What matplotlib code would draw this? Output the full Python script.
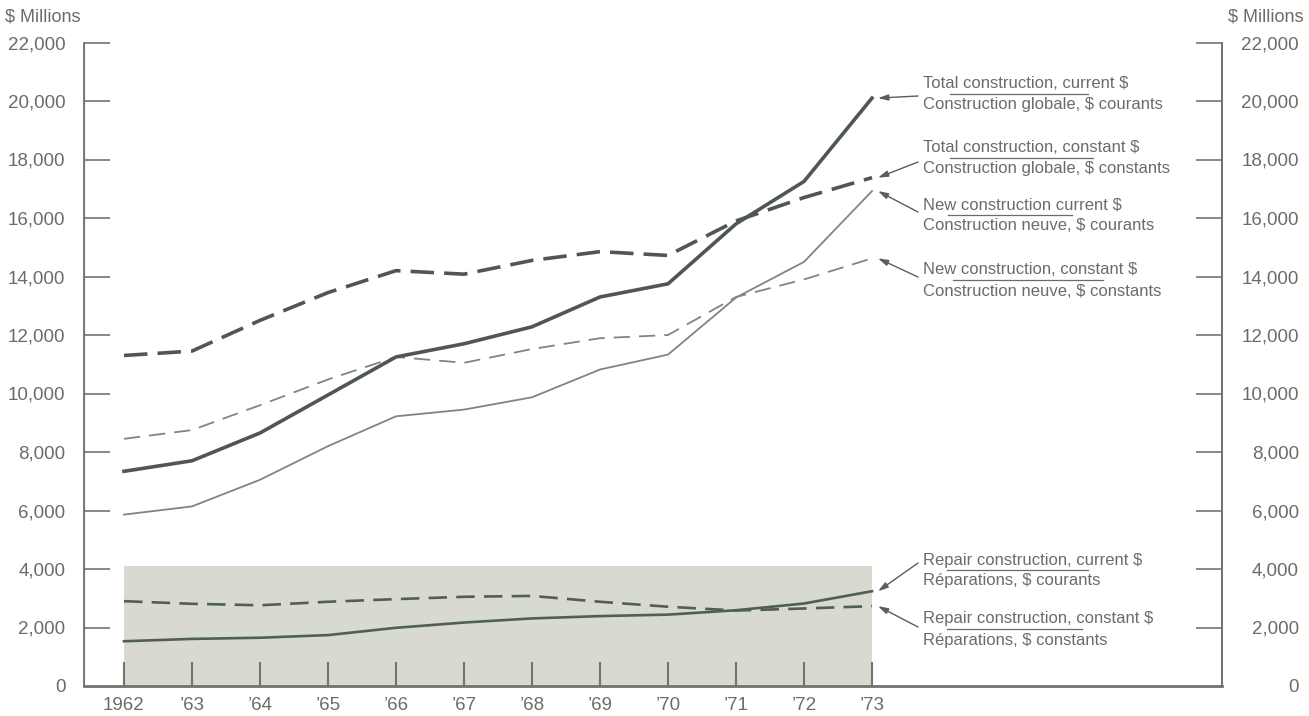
import matplotlib
matplotlib.use("Agg")
import matplotlib.pyplot as plt
from matplotlib.lines import Line2D

plt.rcParams['font.family'] = ['Liberation Sans', 'DejaVu Sans']

years = [1962, 1963, 1964, 1965, 1966, 1967, 1968, 1969, 1970, 1971, 1972, 1973]
year_labels = ['1962', '’63', '’64', '’65', '’66', '’67', '’68', '’69', '’70', '’71', '’72', '’73']

total_current = [7340, 7700, 8650, 9950, 11250, 11700, 12280, 13300, 13750, 15800, 17250, 20100]
total_constant = [11300, 11450, 12500, 13450, 14200, 14080, 14550, 14850, 14720, 15900, 16700, 17380]
new_current = [5860, 6140, 7050, 8200, 9220, 9450, 9870, 10820, 11330, 13280, 14500, 16920]
new_constant = [8450, 8750, 9600, 10480, 11250, 11050, 11520, 11890, 12000, 13300, 13900, 14620]
repair_current = [1530, 1610, 1650, 1740, 1990, 2170, 2310, 2390, 2440, 2590, 2820, 3240]
repair_constant = [2900, 2810, 2760, 2880, 2970, 3050, 3080, 2880, 2710, 2580, 2650, 2730]

shade_top = 4100
yticks = list(range(0, 22001, 2000))
ytick_labels = [f"{v:,}" for v in yticks]

labels = [
    ("Total construction, current $", "Construction globale, $ courants"),
    ("Total construction, constant $", "Construction globale, $ constants"),
    ("New construction current $", "Construction neuve, $ courants"),
    ("New construction, constant $", "Construction neuve, $ constants"),
    ("Repair construction, current $", "Réparations, $ courants"),
    ("Repair construction, constant $", "Réparations, $ constants"),
]
end_values = [total_current[-1], total_constant[-1], new_current[-1],
              new_constant[-1], repair_current[-1], repair_constant[-1]]

W, H = 1309, 716
dark = '#4e5850'
light = '#7d877c'
txt = '#6a6d65'
axc = '#6f766e'

fig = plt.figure(figsize=(W / 100, H / 100), dpi=100)
ax = fig.add_axes([84 / W, 1 - 686 / H, (1222 - 84) / W, (686 - 42.5) / H])

ax.fill_between([years[0], years[-1]], 0, shade_top, color='#d8d9d1', lw=0, zorder=0)

ax.plot(years, new_current, color=light, lw=1.3, zorder=3)
ax.plot(years, new_constant, color=light, lw=1.3, dashes=(9, 5), zorder=3)
ax.plot(years, total_current, color=dark, lw=2.6, zorder=4)
ax.plot(years, total_constant, color=dark, lw=2.6, dashes=(6.5, 2.8), zorder=4)
ax.plot(years, repair_current, color='#4f6052', lw=1.9, zorder=4)
ax.plot(years, repair_constant, color='#4f6052', lw=1.9, dashes=(7, 3.5), zorder=4)

ax.set_xlim(years[0] - 40 / 68, years[-1] + 350 / 68)
ax.set_ylim(0, 22000)
ax.set_xticks(years)
ax.set_xticklabels(year_labels)
ax.set_yticks(yticks)
ax.set_yticklabels(ytick_labels)

ax.spines['top'].set_visible(False)
for s in ['left', 'right']:
    ax.spines[s].set_color(axc)
    ax.spines[s].set_linewidth(1.3)
ax.spines['bottom'].set_color(axc)
ax.spines['bottom'].set_linewidth(2)

ax.tick_params(axis='x', direction='in', length=17, width=1.5, color=axc,
               labelsize=13.5, labelcolor=txt, pad=8)
ax.tick_params(axis='y', direction='in', length=19, width=1.2, color=axc,
               labelsize=13.5, labelcolor=txt, pad=13.5)

# right-hand scale, labels right-aligned
ax2 = ax.twinx()
ax2.set_ylim(0, 22000)
ax2.set_yticks(yticks)
ax2.set_yticklabels(ytick_labels, ha='right')
ax2.tick_params(axis='y', direction='in', length=19, width=1.2, color=axc,
                labelsize=13.5, labelcolor=txt, pad=55.5)
for a in (ax, ax2):
    for t in a.yaxis.get_major_ticks()[:1]:
        t.tick1line.set_visible(False)
        t.tick2line.set_visible(False)
    for s in a.spines.values():
        s.set_color(axc)
ax2.spines['top'].set_visible(False)
ax2.spines['right'].set_linewidth(1.3)

fig.text(5 / W, 1 - 17 / H, "$ Millions", fontsize=13, color=txt, va='center', ha='left')
fig.text(1303 / W, 1 - 17 / H, "$ Millions", fontsize=13, color=txt, va='center', ha='right')

# annotation layout in pixels: (line1 y, underline x0, x1, arrow tail y)
layout = [
    (84, 950, 1088, 96),
    (148, 950, 1093, 162),
    (205, 948, 1072, 212),
    (270, 953, 1103, 277),
    (560, 947, 1088, 563),
    (619, 947, 1082, 627),
]
for (l1, l2), (y1, u0, u1, ty), v in zip(labels, layout, end_values):
    fig.text(923 / W, 1 - y1 / H, l1, fontsize=12, color=txt, va='center', ha='left')
    fig.text(923 / W, 1 - (y1 + 21) / H, l2, fontsize=12, color=txt, va='center', ha='left')
    uy = 1 - (y1 + 10) / H
    fig.add_artist(Line2D([u0 / W, u1 / W], [uy, uy], transform=fig.transFigure,
                          color=txt, lw=0.9))
    ax2.annotate('', xy=(years[-1] + 6 / 68, v), xycoords=ax.transData,
                 xytext=(918, H - ty), textcoords='figure pixels',
                 arrowprops=dict(arrowstyle='-|>,head_length=0.6,head_width=0.18',
                                 color='#566056', lw=1.0, shrinkA=0, shrinkB=0))

fig.savefig('out.png', dpi=100)
